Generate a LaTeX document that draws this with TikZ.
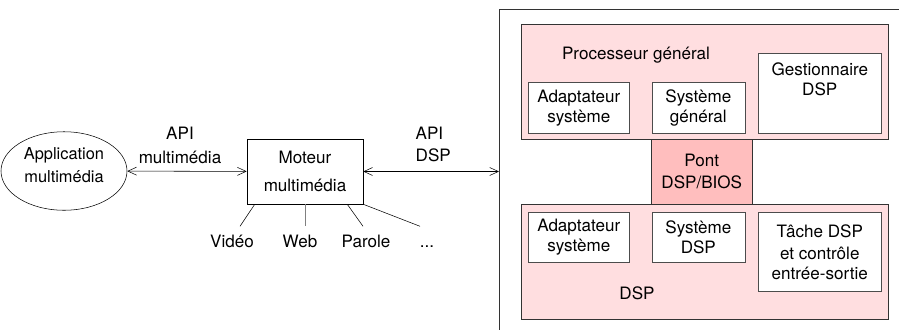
\documentclass[tikz,border=0pt]{standalone}
\usepackage{fontspec}
\setmainfont{TeX Gyre Heros}
\usetikzlibrary{positioning,shapes.geometric,arrows.meta}
\definecolor{procfill}{RGB}{255,222,224}
\definecolor{pontfill}{RGB}{255,190,190}

\begin{document}
\begin{tikzpicture}[x=0.75pt, y=-0.75pt, >={Straight Barb[length=6.5pt,width=6pt]}, node distance=16.5pt,
        every node/.style={font=\fontsize{12.8}{15}\selectfont, align=center},
        bloc/.style={draw=black!80, fill=procfill, inner sep=0pt, minimum width=275.25pt, minimum height=86.25pt},
        sousbloc/.style={draw=black!70, fill=white, inner sep=0pt},
        etiq/.style={anchor=base, text height=12pt}]
        \useasboundingbox (0,0) rectangle (899,329);
        \clip (0,0) rectangle (899,329);

        \node (app) [ellipse, draw, minimum width=81pt, minimum height=49.5pt, text depth=9pt, font=\fontsize{12.3}{17}\selectfont] at (64,171) {Application\\multimédia};
        \node (moteur) [draw, minimum width=87pt, minimum height=48.75pt] at (305,171.5) {Moteur\\[6pt]multimédia};
        \node (apimm) at (180,145) {API\\[3pt]multimédia};
        \node (apidsp) [align=left, anchor=west] at (411,144) {API\\[1.5pt]DSP};

        \node (video) [etiq] at (232,247) {Vidéo};
        \node (web) [etiq] at (300,247) {Web};
        \node (parole) [etiq] at (366,247) {Parole};
        \node (etc) [etiq] at (427,247) {...};

        \node (carte) [draw=black!80, inner sep=0pt, minimum width=320pt, minimum height=260pt, anchor=north west] at (499,9) {};

        \node (gp) [bloc, anchor=north west] at (521,24) {};
        \node (gptxt) at (636,55) {Processeur général};
        \node (adapt1) [sousbloc, minimum width=75.75pt, minimum height=38.25pt, anchor=north west] at (528,82) {Adaptateur\\système};
        \node (sysgen) [sousbloc, minimum width=69.75pt, minimum height=38.25pt, right=of adapt1] {Système\\général};
        \node (gest) [sousbloc, minimum width=92.25pt, minimum height=60pt, anchor=north west] at (758,53) {};
        \node (gesttxt) [below=4pt of gest.north] {Gestionnaire\\DSP};

        \node (dsp) [bloc, anchor=north west] at (521,204) {};
        \node (adapt2) [sousbloc, minimum width=75.75pt, minimum height=37.5pt, anchor=north west] at (528,212) {Adaptateur\\système};
        \node (sysdsp) [sousbloc, minimum width=69.75pt, minimum height=37.5pt, right=of adapt2] {Système\\DSP};
        \node (tache) [sousbloc, minimum width=92.25pt, minimum height=59.25pt, anchor=north west] at (758,212) {Tâche DSP\\[1.5pt]et contrôle\\entrée-sortie};
        \node (dsptxt) at (637,293) {DSP};

        \node (pont) [draw=black!80, fill=pontfill, inner sep=0pt, minimum width=75.75pt, minimum height=48.75pt, anchor=north west] at (651,139) {Pont\\[1.5pt]DSP/BIOS};

        \draw[<->] (app) -- (moteur);
        \draw[<->] (moteur) -- (moteur -| carte.west);

        \draw ([xshift=6pt]moteur.south west) -- ([xshift=6pt]video.north);
        \draw[black!50] (moteur.south) -- ([xshift=3.75pt]web.north);
        \draw ([xshift=-12pt]moteur.south east) -- ([xshift=-2.25pt]parole.north);
        \draw (moteur.south east) -- ([xshift=-5.25pt]etc.north);
        \end{tikzpicture}
\end{document}
